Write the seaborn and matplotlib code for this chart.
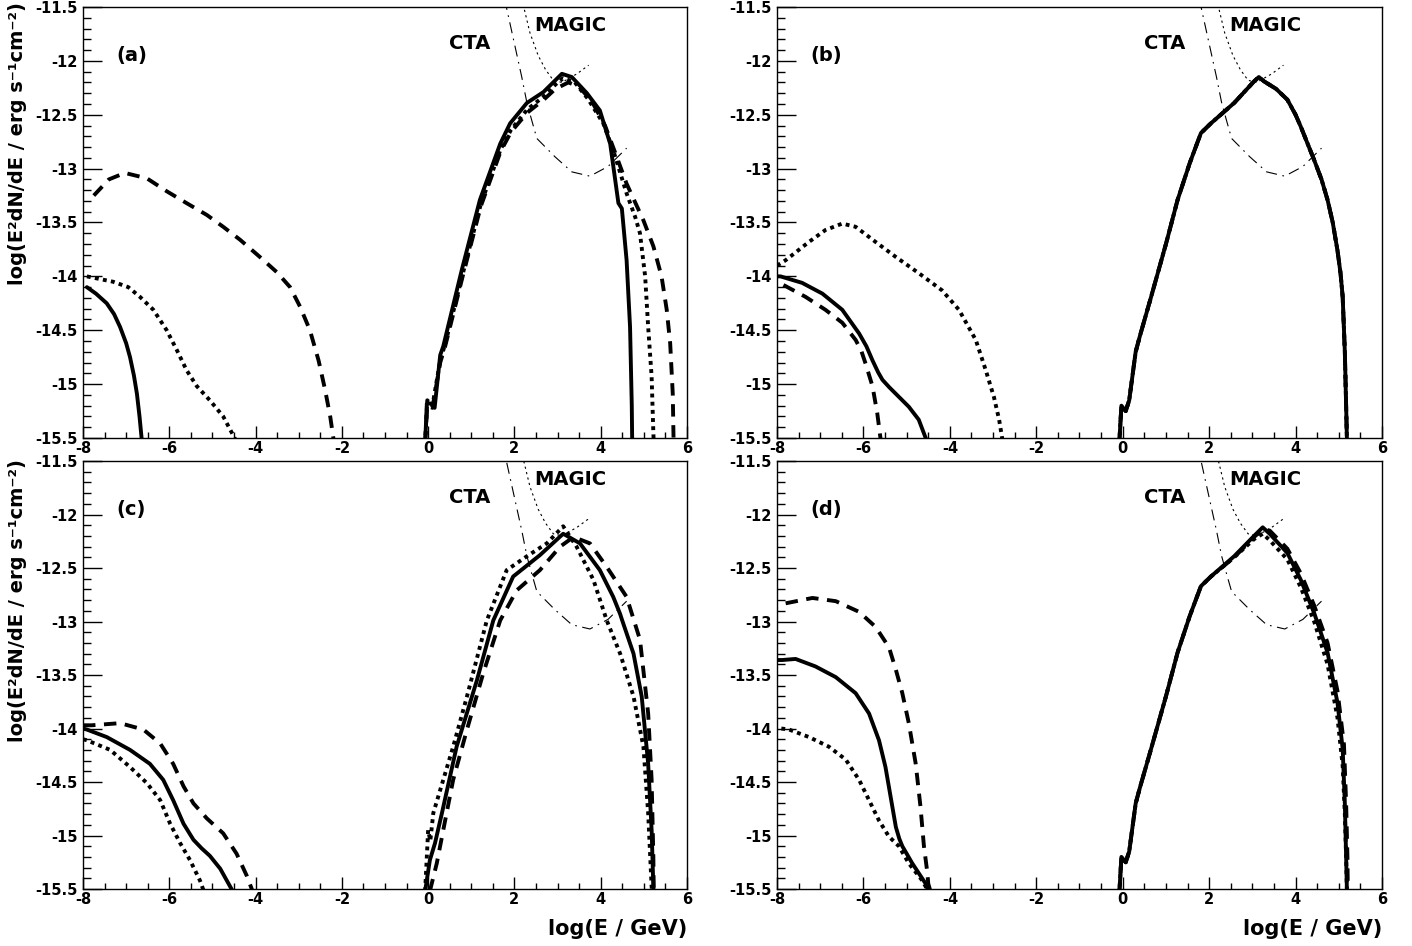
import matplotlib
matplotlib.use("Agg")
import matplotlib.pyplot as plt
import seaborn as sns
from matplotlib.ticker import MultipleLocator, FuncFormatter

sns.set_theme(style="white")
plt.rcParams['font.family'] = ['DejaVu Sans']
plt.rcParams['font.weight'] = 'bold'
plt.rcParams['text.color'] = 'black'
plt.rcParams['xtick.color'] = 'black'
plt.rcParams['ytick.color'] = 'black'
plt.rcParams['axes.labelcolor'] = 'black'

# Sensitivity curves (same in every panel)
cta_x = [1.70, 1.78, 2.17, 2.29, 2.40, 2.52, 2.94, 3.33, 3.75, 4.17, 4.60]
cta_y = [-11.30, -11.44, -12.15, -12.39, -12.55, -12.72, -12.89, -13.03, -13.07, -12.98, -12.81]
magic_x = [2.10, 2.18, 2.36, 2.55, 2.72, 2.90, 3.10, 3.45, 3.72]
magic_y = [-11.30, -11.44, -11.74, -11.95, -12.08, -12.18, -12.20, -12.12, -12.04]

# (a)
a_solid_lo_x = [-7.91, -7.70, -7.45, -7.28, -7.14, -7.00, -6.91, -6.82, -6.75, -6.69, -6.63]
a_solid_lo_y = [-14.10, -14.16, -14.25, -14.35, -14.47, -14.62, -14.75, -14.92, -15.09, -15.30, -15.55]
a_dot_lo_x = [-7.91, -7.30, -6.95, -6.68, -6.37, -6.06, -5.83, -5.60, -5.36, -5.06, -4.75, -4.46]
a_dot_lo_y = [-14.00, -14.05, -14.10, -14.19, -14.31, -14.50, -14.68, -14.87, -15.02, -15.15, -15.30, -15.52]
a_dash_lo_x = [-7.75, -7.40, -7.03, -6.52, -6.06, -5.60, -5.13, -4.75, -4.36, -3.90, -3.51, -3.20,
               -2.97, -2.74, -2.54, -2.39, -2.27, -2.19]
a_dash_lo_y = [-13.25, -13.10, -13.04, -13.09, -13.21, -13.32, -13.43, -13.54, -13.66, -13.82, -13.96, -14.10,
               -14.28, -14.50, -14.78, -15.05, -15.30, -15.52]
a_solid_hi_x = [-0.07, -0.03, 0.08, 0.15, 0.28, 0.35, 0.78, 1.20, 1.67, 1.90, 2.29, 2.67, 3.10, 3.33,
                3.68, 3.98, 4.22, 4.41, 4.49, 4.60, 4.68, 4.72, 4.73]
a_solid_hi_y = [-15.55, -15.18, -15.18, -15.22, -14.73, -14.65, -13.94, -13.29, -12.77, -12.58, -12.39, -12.29,
                -12.12, -12.15, -12.30, -12.46, -12.77, -13.32, -13.37, -13.85, -14.47, -15.20, -15.55]
a_dot_hi_x = [-0.07, -0.02, 0.10, 0.28, 0.40, 0.80, 1.22, 1.68, 1.92, 2.30, 2.68, 2.95, 3.13, 3.40, 3.70,
              4.06, 4.29, 4.60, 4.80, 4.91, 5.03, 5.10, 5.18, 5.22, 5.23]
a_dot_hi_y = [-15.55, -15.15, -15.20, -14.78, -14.62, -13.98, -13.33, -12.82, -12.64, -12.45, -12.33, -12.22,
              -12.16, -12.20, -12.35, -12.58, -12.83, -13.23, -13.45, -13.60, -14.00, -14.47, -14.93, -15.45, -15.55]
a_dash_hi_x = [-0.07, -0.02, 0.10, 0.28, 0.40, 0.80, 1.22, 1.68, 1.92, 2.30, 2.68, 2.95, 3.25, 3.50, 3.80,
               4.10, 4.37, 4.60, 4.99, 5.22, 5.41, 5.53, 5.61, 5.67, 5.69]
a_dash_hi_y = [-15.55, -15.20, -15.22, -14.80, -14.64, -14.00, -13.35, -12.84, -12.66, -12.48, -12.36, -12.26,
               -12.20, -12.24, -12.38, -12.60, -12.89, -13.14, -13.48, -13.72, -14.00, -14.31, -14.62, -15.09, -15.55]

# (b)
b_dot_lo_x = [-8.0, -7.80, -7.26, -6.88, -6.49, -6.18, -5.72, -5.25, -4.72, -4.18, -3.79, -3.40, -3.17,
              -2.98, -2.86, -2.77]
b_dot_lo_y = [-13.90, -13.85, -13.68, -13.57, -13.51, -13.54, -13.68, -13.82, -13.97, -14.13, -14.31, -14.59,
              -14.87, -15.12, -15.33, -15.55]
b_solid_lo_x = [-8.0, -7.92, -7.42, -6.95, -6.49, -6.10, -5.93, -5.79, -5.66, -5.56, -5.40, -5.25, -4.95,
                -4.72, -4.54]
b_solid_lo_y = [-14.00, -14.00, -14.06, -14.16, -14.31, -14.53, -14.65, -14.78, -14.89, -14.96, -15.03,
                -15.09, -15.21, -15.33, -15.52]
b_dash_lo_x = [-7.85, -7.34, -6.88, -6.49, -6.18, -6.05, -5.95, -5.79, -5.68, -5.59]
b_dash_lo_y = [-14.08, -14.19, -14.31, -14.43, -14.59, -14.69, -14.81, -15.02, -15.27, -15.55]
b_hi_x = [-0.08, -0.03, 0.07, 0.15, 0.30, 0.40, 0.65, 1.00, 1.27, 1.55, 1.81, 2.04, 2.58, 3.04, 3.15,
          3.27, 3.55, 3.81, 4.00, 4.12, 4.43, 4.60, 4.74, 4.86, 4.97, 5.04, 5.09, 5.14, 5.17, 5.19]
b_hi_y = [-15.55, -15.20, -15.25, -15.15, -14.70, -14.55, -14.20, -13.70, -13.29, -12.95, -12.67, -12.58,
          -12.39, -12.19, -12.15, -12.19, -12.26, -12.36, -12.50, -12.61, -12.92, -13.10, -13.29, -13.50,
          -13.76, -13.97, -14.19, -14.70, -15.20, -15.55]

# (c)
c_dash_lo_x = [-8.0, -7.80, -7.14, -6.60, -6.21, -5.91, -5.67, -5.44, -5.13, -4.75, -4.44, -4.20, -4.07]
c_dash_lo_y = [-13.97, -13.97, -13.95, -14.01, -14.14, -14.33, -14.54, -14.70, -14.84, -14.98, -15.17, -15.38, -15.52]
c_solid_lo_x = [-8.0, -7.91, -7.45, -6.91, -6.45, -6.14, -5.91, -5.67, -5.44, -5.25, -5.06, -4.82, -4.53]
c_solid_lo_y = [-14.00, -14.01, -14.08, -14.20, -14.33, -14.48, -14.67, -14.89, -15.04, -15.12, -15.19,
                -15.31, -15.52]
c_dot_lo_x = [-8.0, -7.91, -7.37, -6.91, -6.52, -6.21, -5.98, -5.75, -5.52, -5.29, -5.20]
c_dot_lo_y = [-14.10, -14.11, -14.20, -14.36, -14.51, -14.67, -14.89, -15.07, -15.23, -15.42, -15.52]
c_solid_hi_x = [-0.07, 0.04, 0.16, 0.32, 0.66, 1.13, 1.51, 1.97, 2.59, 3.13, 3.52, 3.98, 4.29, 4.45,
                4.49, 4.76, 4.95, 5.10, 5.18, 5.22, 5.23]
c_solid_hi_y = [-15.52, -15.23, -15.07, -14.79, -14.17, -13.55, -12.99, -12.58, -12.38, -12.18, -12.27,
                -12.52, -12.77, -12.93, -12.98, -13.30, -13.70, -14.33, -14.95, -15.48, -15.55]
c_dot_hi_x = [-0.07, 0.00, 0.05, 0.12, 0.35, 0.58, 0.90, 1.36, 1.82, 2.29, 2.75, 3.13, 3.44, 3.83, 4.14,
              4.45, 4.76, 4.99, 5.10, 5.18, 5.20]
c_dot_hi_y = [-15.52, -14.95, -15.05, -14.79, -14.48, -14.17, -13.70, -12.99, -12.52, -12.39, -12.27, -12.11,
              -12.30, -12.61, -12.99, -13.30, -13.70, -14.17, -14.79, -15.48, -15.55]
c_dash_hi_x = [0.04, 0.20, 0.35, 0.58, 0.90, 1.28, 1.67, 2.05, 2.59, 3.06, 3.37, 3.75, 4.14, 4.60, 4.91,
               5.10, 5.18, 5.22, 5.23]
c_dash_hi_y = [-15.52, -15.26, -14.95, -14.48, -14.01, -13.48, -12.99, -12.71, -12.52, -12.30, -12.21, -12.27,
               -12.49, -12.77, -13.17, -13.86, -14.48, -15.20, -15.55]

# (d)
d_dash_lo_x = [-7.80, -7.18, -6.64, -6.10, -5.72, -5.41, -5.25, -5.10, -4.95, -4.79, -4.68, -4.60, -4.52,
               -4.50, -4.45]
d_dash_lo_y = [-12.83, -12.78, -12.81, -12.91, -13.05, -13.24, -13.45, -13.67, -13.95, -14.33, -14.73, -15.10,
               -15.35, -15.45, -15.52]
d_solid_lo_x = [-8.0, -7.88, -7.57, -7.11, -6.64, -6.18, -5.87, -5.64, -5.49, -5.37, -5.25, -5.17, -5.10,
                -4.87, -4.56, -4.50]
d_solid_lo_y = [-13.36, -13.36, -13.35, -13.42, -13.52, -13.67, -13.86, -14.11, -14.36, -14.64, -14.92,
                -15.03, -15.10, -15.26, -15.45, -15.52]
d_dot_lo_x = [-7.90, -7.72, -7.26, -6.80, -6.41, -6.10, -5.87, -5.64, -5.41, -5.18, -4.95, -4.64, -4.50]
d_dot_lo_y = [-14.00, -14.01, -14.08, -14.17, -14.29, -14.48, -14.67, -14.86, -15.01, -15.10, -15.26, -15.42, -15.52]
d_solid_hi_x = [-0.08, -0.03, 0.07, 0.15, 0.30, 0.40, 0.65, 1.00, 1.27, 1.55, 1.81, 2.04, 2.58, 3.04, 3.24,
                3.40, 3.81, 4.12, 4.43, 4.74, 4.97, 5.09, 5.14, 5.17, 5.19]
d_solid_hi_y = [-15.55, -15.20, -15.25, -15.15, -14.70, -14.55, -14.20, -13.70, -13.29, -12.95, -12.67,
                -12.58, -12.39, -12.20, -12.12, -12.18, -12.36, -12.61, -12.92, -13.29, -13.76, -14.19,
                -14.70, -15.20, -15.55]
d_dot_hi_x = [-0.08, -0.03, 0.07, 0.15, 0.30, 0.40, 0.65, 1.00, 1.27, 1.55, 1.81, 2.04, 2.58, 3.04, 3.24,
              3.40, 3.81, 4.12, 4.43, 4.74, 4.97, 5.09, 5.14, 5.17, 5.19]
d_dot_hi_y = [-15.55, -15.20, -15.25, -15.15, -14.70, -14.55, -14.20, -13.70, -13.29, -12.95, -12.67,
              -12.58, -12.40, -12.23, -12.18, -12.24, -12.42, -12.68, -13.00, -13.40, -13.90, -14.35,
              -14.80, -15.20, -15.55]
d_dash_hi_x = [-0.08, -0.03, 0.07, 0.15, 0.30, 0.40, 0.65, 1.00, 1.27, 1.55, 1.81, 2.04, 2.58, 3.04, 3.24,
               3.40, 3.81, 4.12, 4.43, 4.74, 4.97, 5.12, 5.17, 5.20, 5.21]
d_dash_hi_y = [-15.55, -15.20, -15.25, -15.15, -14.70, -14.55, -14.20, -13.70, -13.29, -12.95, -12.67,
               -12.58, -12.40, -12.21, -12.14, -12.15, -12.32, -12.55, -12.85, -13.20, -13.65, -14.15,
               -14.70, -15.20, -15.55]

panel_tags = ['(a)', '(b)', '(c)', '(d)']
panel_curves = {
    '(a)': [(a_solid_lo_x, a_solid_lo_y, 'solid'), (a_dot_lo_x, a_dot_lo_y, 'dot'), (a_dash_lo_x, a_dash_lo_y, 'dash'),
            (a_dash_hi_x, a_dash_hi_y, 'dash'), (a_dot_hi_x, a_dot_hi_y, 'dot'), (a_solid_hi_x, a_solid_hi_y, 'solid')],
    '(b)': [(b_solid_lo_x, b_solid_lo_y, 'solid'), (b_dot_lo_x, b_dot_lo_y, 'dot'), (b_dash_lo_x, b_dash_lo_y, 'dash'),
            (b_hi_x, b_hi_y, 'dash'), (b_hi_x, b_hi_y, 'dot'), (b_hi_x, b_hi_y, 'solid')],
    '(c)': [(c_solid_lo_x, c_solid_lo_y, 'solid'), (c_dot_lo_x, c_dot_lo_y, 'dot'), (c_dash_lo_x, c_dash_lo_y, 'dash'),
            (c_dash_hi_x, c_dash_hi_y, 'dash'), (c_dot_hi_x, c_dot_hi_y, 'dot'), (c_solid_hi_x, c_solid_hi_y, 'solid')],
    '(d)': [(d_solid_lo_x, d_solid_lo_y, 'solid'), (d_dot_lo_x, d_dot_lo_y, 'dot'), (d_dash_lo_x, d_dash_lo_y, 'dash'),
            (d_dash_hi_x, d_dash_hi_y, 'dash'), (d_dot_hi_x, d_dot_hi_y, 'dot'), (d_solid_hi_x, d_solid_hi_y, 'solid')],
}
line_styles = {'solid': '-', 'dash': (0, (3.2, 2.2)), 'dot': (0, (1.0, 1.1))}

W, H = 1412, 946
fig = plt.figure(figsize=(W / 100, H / 100), dpi=100)
# left, top, right, bottom in pixels
boxes = {'(a)': (83, 7, 687, 438), '(b)': (777, 7, 1382, 438),
         '(c)': (83, 461, 687, 889), '(d)': (777, 461, 1382, 889)}

for tag in panel_tags:
    l, t, r, b = boxes[tag]
    ax = fig.add_axes([l / W, 1 - b / H, (r - l) / W, (b - t) / H])

    for xs, ys, st in panel_curves[tag]:
        sns.lineplot(x=xs, y=ys, ax=ax, color='black', lw=2.8, linestyle=line_styles[st],
                     sort=False, estimator=None)
    sns.lineplot(x=cta_x, y=cta_y, ax=ax, color='black', lw=0.8, linestyle=(0, (10, 5, 1.5, 5)),
                 sort=False, estimator=None)
    sns.lineplot(x=magic_x, y=magic_y, ax=ax, color='black', lw=0.8, linestyle=(0, (2, 3)),
                 sort=False, estimator=None)

    ax.text(0.97, -11.84, 'CTA', ha='center', va='center', fontsize=14, fontweight='bold', color='black')
    ax.text(3.30, -11.67, 'MAGIC', ha='center', va='center', fontsize=14, fontweight='bold', color='black')
    ax.text(-7.22, -11.95, tag, ha='left', va='center', fontsize=14, fontweight='bold', color='black')

    ax.set_xlim(-8, 6)
    ax.set_ylim(-15.5, -11.5)
    ax.xaxis.set_major_locator(MultipleLocator(2))
    ax.xaxis.set_minor_locator(MultipleLocator(0.5))
    ax.yaxis.set_major_locator(MultipleLocator(0.5))
    ax.yaxis.set_minor_locator(MultipleLocator(0.1))
    ax.yaxis.set_major_formatter(FuncFormatter(lambda v, p: f"{v:g}"))
    ax.xaxis.set_major_formatter(FuncFormatter(lambda v, p: f"{v:g}"))
    ax.tick_params(axis='y', which='major', direction='in', length=14, width=1, left=True, right=False,
                   labelsize=10.5, pad=4, colors='black')
    ax.tick_params(axis='y', which='minor', direction='in', length=6, width=1, left=True, right=False,
                   colors='black')
    ax.tick_params(axis='x', which='major', direction='in', length=8.5, width=1, bottom=True, top=False,
                   labelsize=10.5, pad=2, colors='black')
    ax.tick_params(axis='x', which='minor', direction='in', length=4.5, width=1, bottom=True, top=False,
                   colors='black')
    for lab in ax.get_xticklabels() + ax.get_yticklabels():
        lab.set_fontweight('bold')
    for sp in ax.spines.values():
        sp.set_color('black')
        sp.set_linewidth(1.0)
    ax.set_xlabel('')
    ax.set_ylabel('')

ylab = 'log(E\u00b2dN/dE / erg s\u207b\u00b9cm\u207b\u00b2)'
fig.text(18 / W, 1 - 2 / H, ylab, rotation=90, ha='center', va='top', fontsize=14, fontweight='bold',
         color='black')
fig.text(18 / W, 1 - 459 / H, ylab, rotation=90, ha='center', va='top', fontsize=14, fontweight='bold',
         color='black')
fig.text(687 / W, 1 - 929 / H, 'log(E / GeV)', ha='right', va='center', fontsize=15, fontweight='bold',
         color='black')
fig.text(1382 / W, 1 - 929 / H, 'log(E / GeV)', ha='right', va='center', fontsize=15, fontweight='bold',
         color='black')

fig.savefig('out.png', dpi=100, facecolor='white')
